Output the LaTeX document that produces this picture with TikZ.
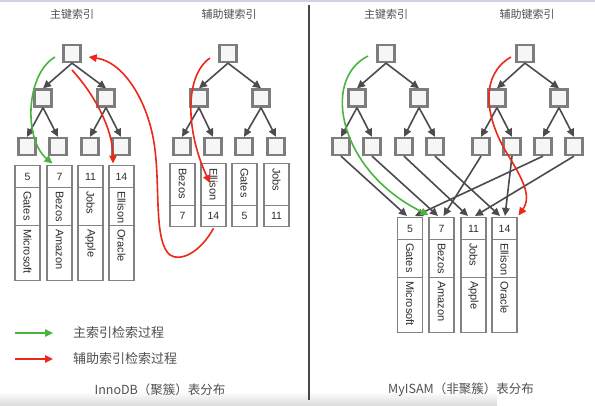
\documentclass[tikz,border=0pt]{standalone}
\usepackage{fontspec}
\setmainfont{Liberation Sans}
\newfontfamily\cjk{Noto Sans CJK SC}
\usetikzlibrary{arrows.meta,calc}
\definecolor{boxgray}{RGB}{125,125,125}
\definecolor{boxfill}{RGB}{246,246,246}
\definecolor{edgegray}{RGB}{75,75,80}
\definecolor{cellgray}{RGB}{130,130,130}
\definecolor{txtgray}{RGB}{45,45,45}
\definecolor{capgray}{RGB}{80,80,80}
\definecolor{igreen}{RGB}{75,180,65}
\definecolor{ired}{RGB}{235,40,25}
\definecolor{divgray}{RGB}{70,70,75}
\definecolor{topline}{RGB}{205,212,224}
\tikzset{
  kbox/.style={draw=boxgray, line width=2.3pt, fill=boxfill, minimum size=17pt, inner sep=0pt},
  tedge/.style={draw=edgegray, line width=1.6pt, -{Triangle[length=8pt,width=7.5pt]}},
  cellbox/.style={draw=cellgray, line width=1.3pt, fill=white, anchor=north, minimum width=25pt, inner sep=0pt, font=\fontsize{10.5}{12}\selectfont, text=txtgray},
  rtext/.style={rotate=-90, anchor=west, inner sep=0pt, font=\fontsize{11}{12}\selectfont, text=txtgray},
  garrow/.style={draw=igreen, line width=1.6pt, -{Triangle[length=8pt,width=7.5pt]}},
  rarrow/.style={draw=ired, line width=1.6pt, -{Triangle[length=8pt,width=7.5pt]}},
  ttl/.style={font=\cjk\fontsize{11}{13}\selectfont, text=capgray, inner sep=0pt},
  captxt/.style={font=\cjk\fontsize{12.5}{14}\selectfont, text=capgray, inner sep=0pt},
  legtxt/.style={font=\cjk\fontsize{13}{15}\selectfont, text=capgray, inner sep=0pt, anchor=west}
}
\newcommand\myprec[6]{%
  \node[cellbox, minimum height=22pt] (#1n) at (#2,#3) {#4};
  \node[cellbox, minimum height=38pt] (#1p) at (#2,#3+22) {};
  \node[cellbox, minimum height=55pt] (#1c) at (#2,#3+60) {};
  \node[rtext] (#1pt) at ($(#1p.north)+(0,4)$) {#5};
  \node[rtext] (#1ct) at ($(#1c.north)+(0,4)$) {#6};
}
\newcommand\mysrec[5]{%
  \node[cellbox, minimum height=42pt] (#1p) at (#2,#3) {};
  \node[cellbox, minimum height=21pt] (#1n) at (#2,#3+42) {#5};
  \node[rtext] (#1pt) at ($(#1p.north)+(0,5)$) {#4};
}
\newcommand\myktree[8]{%
  \node[kbox] (#10) at (#2,53.5) {};
  \node[kbox] (#11) at (#3,98) {};
  \node[kbox] (#12) at (#4,98) {};
  \node[kbox] (#111) at (#5,146.5) {};
  \node[kbox] (#112) at (#6,146.5) {};
  \node[kbox] (#121) at (#7,146.5) {};
  \node[kbox] (#122) at (#8,146.5) {};
  \draw[tedge] (#10.south) -- (#11.north);
  \draw[tedge] (#10.south) -- (#12.north);
  \draw[tedge] (#11.south) -- (#111.north);
  \draw[tedge] (#11.south) -- (#112.north);
  \draw[tedge] (#12.south) -- (#121.north);
  \draw[tedge] (#12.south) -- (#122.north);
}
\begin{document}
\begin{tikzpicture}[x=1pt,y=-1pt]
\useasboundingbox (0,0) rectangle (595,405);
\fill[white] (0,0) rectangle (595,405);
\fill[topline] (0,0) rectangle (595,1.5);
\shade[top color=white, bottom color=black!13] (0,391) rectangle (497,405);
% divider
\coordinate (dv1) at (309,5);
\coordinate (dv2) at (309,400);
\draw[divgray, line width=2.6pt] (dv1) -- (dv2);

% titles
\node[ttl] (t1) at (72,14) {主键索引};
\node[ttl] (t2) at (229,14) {辅助键索引};
\node[ttl] (t3) at (386,14) {主键索引};
\node[ttl] (t4) at (527,14) {辅助键索引};

% trees
\myktree{a}{72}{43}{106}{27}{58}{90}{121}
\myktree{b}{228}{199}{261}{182}{213}{244}{276}
\myktree{c}{386}{357}{419}{341}{372}{404}{435}
\myktree{d}{525}{497}{559}{481}{512}{543}{574}

% InnoDB primary records
\myprec{ra}{27.5}{165}{5}{Gates}{Microsoft}
\myprec{rb}{59.5}{165}{7}{Bezos}{Amazon}
\myprec{rc}{90.5}{165}{11}{Jobs}{Apple}
\myprec{rd}{121.5}{165}{14}{Ellison}{Oracle}
% InnoDB secondary records
\mysrec{sa}{182.5}{163}{Bezos}{7}
\mysrec{sb}{213.5}{163}{Ellison}{14}
\mysrec{sc}{244.5}{163}{Gates}{5}
\mysrec{sd}{276.5}{163}{Jobs}{11}
% MyISAM records
\myprec{ma}{410}{217}{5}{Gates}{Microsoft}
\myprec{mb}{441.5}{217}{7}{Bezos}{Amazon}
\myprec{mc}{473.5}{217}{11}{Jobs}{Apple}
\myprec{md}{504.5}{217}{14}{Ellison}{Oracle}

% MyISAM leaf -> record pointers
\draw[tedge] (c11.south) -- ($(man.north)+(-3,-1)$);
\draw[tedge] (c12.south) -- ($(mbn.north)+(-3.5,-1)$);
\draw[tedge] (c21.south) -- ($(mcn.north)+(-5.5,-1)$);
\draw[tedge] (c22.south) -- ($(mdn.north)+(-4.5,-1)$);
\draw[tedge] (d11.south) -- ($(mbn.north)+(2,-1)$);
\draw[tedge] (d12.south) -- ($(mdn.north)+(0.5,-1)$);
\draw[tedge] (d21.south) -- ($(man.north)+(5,-1)$);
\draw[tedge] (d22.south) -- ($(mcn.north)+(1.5,-1)$);

% InnoDB search paths
\coordinate (g1s) at (55,57);
\draw[garrow] (g1s) .. controls (25,75) and (24,140) .. ($(rbn.north)+(-7,-1.5)$);
\coordinate (r1s) at (72,70);
\draw[rarrow] (r1s) .. controls (95,95) and (113,130) .. ($(rdn.north)+(-8.5,-1.5)$);
\coordinate (r2s) at (210,58);
\draw[rarrow] (r2s) .. controls (184,76) and (186,132) .. (210,183);
\coordinate (r3s) at ($(sbn.south)+(0,1)$);
\coordinate (r3a) at (170,255);
\coordinate (r3b) at (155,150);
\draw[rarrow] (r3s) .. controls (200,253) and (180,262) .. (r3a)
  .. controls (154,242) and (160,190) .. (r3b)
  .. controls (150,105) and (125,62) .. ($(a0.east)+(7,3.5)$);

% MyISAM search paths
\coordinate (g2s) at (368,56);
\draw[garrow] (g2s) .. controls (320,80) and (340,172) .. ($(mbn.north)+(-13,-2)$);
\coordinate (r4s) at (511,57);
\coordinate (r4a) at (505,150);
\draw[rarrow] (r4s) .. controls (480,75) and (485,115) .. (r4a)
  .. controls (520,175) and (533,195) .. ($(mdn.north)+(14,-1.5)$);

% legend
\coordinate (l1a) at (15,333);
\coordinate (l1b) at (53,333);
\draw[garrow] (l1a) -- (l1b);
\node[legtxt] (l1t) at (73,333) {主索引检索过程};
\coordinate (l2a) at (15,359);
\coordinate (l2b) at (53,359);
\draw[rarrow] (l2a) -- (l2b);
\node[legtxt] (l2t) at (73,359) {辅助索引检索过程};

% captions
\node[captxt] (c1cap) at (160,390) {InnoDB（聚簇）表分布};
\node[captxt] (c2cap) at (461,390) {MyISAM（非聚簇）表分布};
\end{tikzpicture}
\end{document}
